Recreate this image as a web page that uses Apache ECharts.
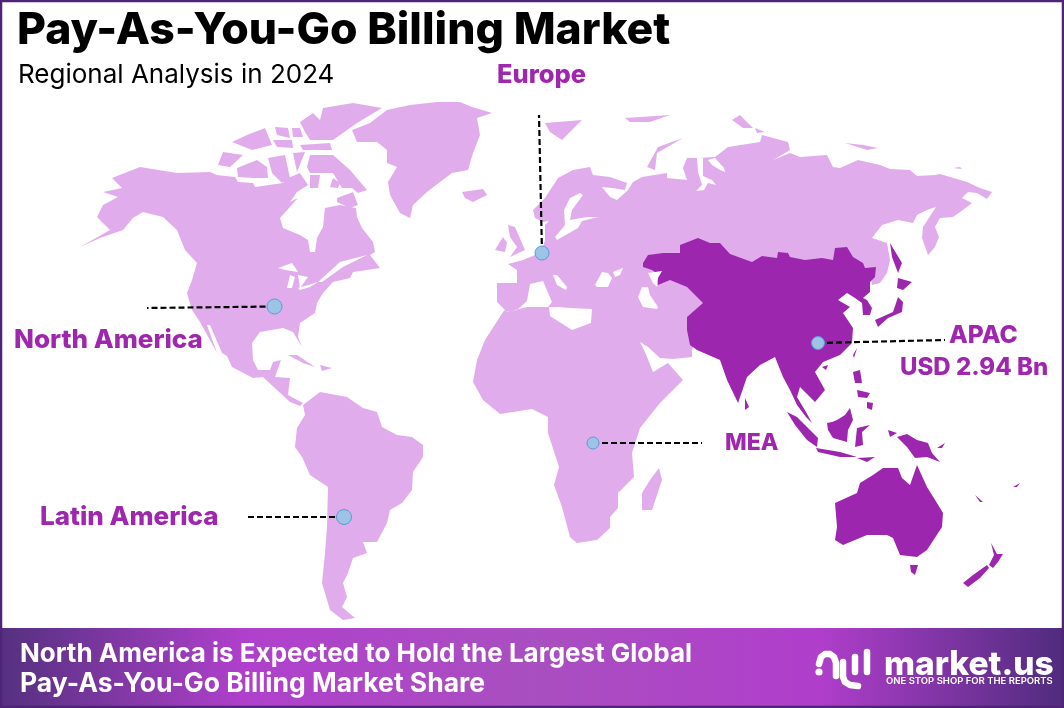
<!DOCTYPE html>
<html>
<head>
<meta charset="utf-8">
<style>html,body{margin:0;padding:0;background:#fff}#c{width:1064px;height:708px}</style>
<script src="https://cdn.jsdelivr.net/npm/echarts@6/dist/echarts.min.js"></script>
</head>
<body>
<div id="c"></div>
<script>
// ---------- chart data ----------
const chartTitle = 'Pay-As-You-Go Billing Market';
const chartSubtitle = 'Regional Analysis in 2024';
const regionNames = ['North America', 'Europe', 'APAC', 'MEA', 'Latin America'];
const apacValue = 2.94;
// dot location of each region and where its leader line ends, in map units
const regionDots = [[274.5, 306.5], [542, 253], [818, 343], [593, 443], [344, 517]];
const leaderEnds = [[147, 308], [539, 115], [945, 340], [702, 443], [245, 517]];
const footerLines = ['North America is Expected to Hold the Largest Global', 'Pay-As-You-Go Billing Market Share'];

// ---------- map outlines, in map units ----------
const northAmerica = [[112,178],[140,167],[177,173],[210,172],[217,175],[235,177],[238,182],[253,183],[255,187],[283,183],[288,178],[300,173],[308,185],[297,192],[290,202],[298,198],[280,218],[283,228],[300,235],[308,240],[310,252],[315,252],[317,238],[323,227],[325,208],[340,205],[350,207],[356,208],[357,217],[362,228],[373,242],[375,252],[370,255],[380,268],[367,270],[353,272],[350,278],[333,282],[323,293],[317,303],[315,313],[300,323],[298,337],[302,347],[293,332],[283,328],[260,332],[252,343],[253,360],[258,370],[270,370],[273,362],[281,360],[275,377],[290,378],[288,395],[303,403],[300,406],[290,402],[277,390],[263,377],[253,378],[232,367],[227,356],[222,353],[210,325],[207,325],[217,353],[200,322],[192,310],[187,293],[192,280],[197,263],[185,250],[177,230],[163,217],[143,212],[133,218],[123,230],[100,238],[80,247],[110,230],[97,217],[103,205],[118,197],[103,192],[122,188]];
const southAmerica = [[303,405],[320,392],[347,397],[363,408],[377,412],[382,427],[397,435],[412,437],[423,445],[423,457],[413,472],[412,490],[402,503],[390,510],[387,523],[377,542],[363,542],[367,553],[353,558],[348,573],[343,583],[347,597],[342,607],[355,618],[343,620],[330,610],[322,583],[325,553],[327,527],[328,487],[310,475],[302,457],[295,447],[297,428],[305,415]];
const greenland = [[352,130],[370,123],[387,110],[410,105],[437,102],[460,102],[472,107],[492,113],[477,118],[480,135],[473,153],[468,170],[452,173],[440,182],[427,192],[413,205],[410,218],[400,213],[390,195],[388,182],[397,167],[387,163],[387,150],[377,142],[357,142]];
const iceland = [[462,192],[483,189],[487,195],[473,202],[465,198]];
const arcticIslands = [
  [[218,165],[223,152],[243,155],[230,167]],
  [[237,168],[257,160],[267,167],[268,178],[253,178],[238,177]],
  [[268,158],[285,155],[290,178],[282,183],[272,173]],
  [[293,153],[305,152],[297,172]],
  [[232,142],[247,135],[265,128],[272,145],[252,150]],
  [[275,127],[288,128],[290,138],[277,135]],
  [[273,140],[292,140],[293,148],[277,147]],
  [[300,145],[330,143],[332,150],[303,150]],
  [[292,128],[300,128],[303,137],[293,137]],
  [[300,122],[313,113],[320,120],[323,108],[353,103],[382,108],[357,123],[333,140],[310,140],[305,132]],
  [[307,167],[310,155],[333,155],[350,170],[367,190],[358,193],[352,188],[342,188],[333,173],[323,173],[310,173]],
  [[310,175],[320,175],[318,188],[310,188]],
  [[333,178],[340,183],[338,188],[330,187]],
  [[337,198],[353,192],[358,205],[350,208],[337,202]]
];
const afroEurasia = [[505,310],[497,302],[497,283],[517,283],[517,270],[508,264],[523,260],[535,255],[543,247],[545,240],[545,225],[549,221],[543,222],[535,218],[533,210],[545,198],[558,178],[573,170],[590,167],[593,175],[610,177],[627,183],[625,190],[612,188],[602,187],[610,197],[617,200],[628,190],[633,182],[642,177],[667,173],[667,178],[687,180],[683,168],[687,158],[698,158],[715,157],[728,147],[760,142],[762,135],[788,142],[790,150],[773,160],[790,153],[800,157],[827,155],[833,167],[840,168],[858,160],[880,165],[890,169],[910,170],[917,176],[935,175],[940,174],[967,182],[980,188],[992,192],[987,199],[977,193],[968,192],[962,198],[972,203],[963,210],[953,217],[940,218],[935,227],[939,237],[935,247],[928,255],[922,238],[923,227],[936,207],[927,210],[917,215],[913,223],[898,220],[882,225],[872,238],[887,243],[890,260],[887,273],[880,283],[872,285],[870,273],[860,275],[780,290],[720,300],[700,330],[692,350],[692,357],[673,359],[660,358],[648,347],[640,342],[645,352],[653,372],[668,363],[683,380],[660,403],[640,428],[632,453],[634,477],[618,493],[618,508],[610,517],[610,528],[597,540],[577,543],[570,537],[562,507],[554,485],[559,467],[548,433],[548,417],[532,409],[513,412],[500,414],[483,400],[473,382],[477,360],[485,340],[503,312]];
const lightIslands = [
  [[508,225],[515,227],[525,250],[510,257],[517,247],[510,237]],
  [[495,250],[503,237],[507,243],[505,252]],
  [[545,123],[582,120],[562,140],[550,132]],
  [[625,118],[670,115],[650,122],[630,122]],
  [[732,120],[740,115],[753,128],[743,128]],
  [[755,128],[765,132],[757,133]],
  [[683,138],[658,147],[647,167],[655,170],[657,153]],
  [[845,143],[863,145],[878,148],[867,150]],
  [[953,168],[960,167],[962,169]],
  [[542,285],[544,295],[540,297]],
  [[659,468],[662,480],[652,510],[642,510],[642,493],[650,480]],
  [[288,355],[297,355],[315,367],[303,363]],
  [[320,365],[332,368],[322,371]]
];
const apacMainland = [[643,263],[648,255],[663,253],[680,253],[680,245],[698,238],[710,243],[720,243],[730,254],[752,262],[762,256],[777,258],[778,252],[788,253],[790,257],[805,260],[822,258],[833,260],[835,248],[847,247],[853,257],[863,263],[865,268],[876,267],[875,277],[870,282],[870,292],[863,298],[867,300],[872,308],[870,315],[863,315],[862,303],[855,298],[847,293],[838,300],[850,307],[843,313],[853,328],[852,343],[840,355],[823,362],[815,372],[825,390],[815,402],[800,387],[797,397],[806,412],[812,423],[806,417],[797,405],[790,390],[783,377],[775,357],[760,365],[747,377],[738,403],[727,380],[720,360],[697,350],[690,345],[687,330],[687,317],[703,303],[687,287],[670,280],[658,285],[655,272],[652,270],[643,267]];
const apacIslands = [
  [[875,320],[893,312],[898,297],[903,302],[902,312],[888,318],[878,327]],
  [[898,278],[912,282],[903,290],[897,288]],
  [[890,243],[902,263],[898,273],[892,257]],
  [[853,355],[857,348],[854,358]],
  [[822,367],[828,365],[826,370]],
  [[745,398],[749,407],[745,410]],
  [[853,372],[860,370],[862,383],[855,383]],
  [[867,402],[873,403],[872,410],[867,408]],
  [[857,390],[870,393],[867,398],[858,397]],
  [[787,412],[797,417],[810,430],[818,438],[817,447],[807,440],[795,425]],
  [[816,448],[840,452],[857,457],[840,457],[818,452]],
  [[857,458],[875,457],[867,462]],
  [[827,423],[832,422],[837,420],[845,415],[850,408],[853,420],[848,430],[847,442],[833,438],[828,430]],
  [[857,428],[870,425],[862,432],[863,445],[855,447]],
  [[897,437],[907,434],[917,440],[928,443],[932,453],[940,462],[927,457],[915,458],[907,447]],
  [[888,430],[897,433],[890,437]],
  [[937,448],[945,443],[942,448]],
  [[975,495],[983,502],[980,502]],
  [[1013,487],[1020,483],[1017,487]],
  [[835,503],[857,493],[860,483],[873,475],[883,468],[898,468],[902,478],[910,485],[917,465],[927,487],[937,503],[943,513],[942,527],[927,550],[917,557],[900,555],[893,538],[887,535],[867,535],[843,545],[835,540],[837,527]],
  [[910,565],[918,565],[915,575],[911,572]],
  [[991,543],[997,554],[1003,554],[998,562],[993,568],[989,565],[994,555]],
  [[987,565],[989,568],[980,578],[968,587],[963,583],[973,575]]
];
const inlandWaters = [
  [[505,312],[517,310],[527,301],[530,284],[543,281],[546,288],[552,302],[548,307],[527,307],[507,312]],
  [[553,275],[557,275],[567,287],[566,290],[557,285]],
  [[549,307],[558,307],[570,308],[592,309],[591,323],[572,330],[550,316]],
  [[595,285],[602,272],[608,273],[612,278],[608,287],[597,287]],
  [[613,272],[623,268],[620,275],[615,277]],
  [[638,297],[642,287],[648,287],[650,295],[658,307],[657,309],[643,307]],
  [[648,273],[662,271],[658,278],[657,287],[653,283]],
  [[580,193],[583,195],[572,210],[570,220],[587,217],[598,217],[582,221],[578,228],[557,240],[555,237],[565,225],[564,210],[570,198]],
  [[697,158],[703,158],[703,176],[712,180],[716,185],[708,183],[704,190],[696,191],[702,185],[698,172]],
  [[708,160],[715,158],[724,168],[725,172],[720,170],[712,165]],
  [[278,268],[292,263],[298,272],[285,270]],
  [[287,288],[290,275],[295,277],[292,288]],
  [[298,275],[308,277],[300,288]],
  [[298,288],[318,282],[310,287],[300,290]],
  [[318,282],[340,262],[367,255],[343,267],[322,282]]
];
// logo strokes
const logoStrokes = [
  [[819,664],[821,657],[825,654],[830,654],[834,657],[836,663],[836,676]],
  [[843,662],[843,677],[845,682],[850,685],[858,686]],
  [[855,657],[855,672]],
  [[867,652],[867,672]]
];

// ---------- build the map ----------
const closeRing = r => [r.concat([r[0]])];
const feature = (name, polys) => ({
  type: 'Feature', properties: { name: name },
  geometry: { type: 'MultiPolygon', coordinates: polys.map(closeRing) }
});
const lightPolys = [northAmerica, southAmerica, greenland, iceland, afroEurasia].concat(arcticIslands, lightIslands);
const darkPolys = [apacMainland].concat(apacIslands);
echarts.registerMap('worldShape', { type: 'FeatureCollection', features: [
  feature('Light', lightPolys), feature('Dark', darkPolys), feature('Water', inlandWaters)
]});
const allPts = lightPolys.concat(darkPolys).flat();
const xs = allPts.map(p => p[0]), ys = allPts.map(p => p[1]);
const minX = Math.min(...xs), maxX = Math.max(...xs), minY = Math.min(...ys), maxY = Math.max(...ys);

const FONT = 'Inter';
const PURPLE = '#9F27AE';
const dotSizes = [15, 14, 13, 12, 15];
const label = (text, x, y, size, color, weight) => ({
  type: 'text', x: x, y: y, z: 20,
  style: { text: text, font: (weight || 800) + ' ' + size + 'px ' + FONT, fill: color || PURPLE, textVerticalAlign: 'middle' }
});

const chart = echarts.init(document.getElementById('c'), null, { renderer: 'canvas' });
chart.setOption({
  animation: false,
  backgroundColor: '#fff',
  geo: {
    map: 'worldShape', silent: true, roam: false,
    projection: { project: p => p, unproject: p => p },
    left: minX, top: minY, width: maxX - minX, height: maxY - minY,
    label: { show: false },
    itemStyle: { areaColor: '#E1ACEC', borderWidth: 0 },
    regions: [
      { name: 'Light', itemStyle: { areaColor: '#E1ACEC', borderWidth: 0 } },
      { name: 'Dark', itemStyle: { areaColor: '#9D26AE', borderWidth: 0 } },
      { name: 'Water', itemStyle: { areaColor: '#FFFFFF', borderWidth: 0 } }
    ]
  },
  series: [
    {
      type: 'lines', coordinateSystem: 'geo', silent: true, z: 3,
      lineStyle: { color: '#000', width: 2.2, type: [6, 3], curveness: 0, opacity: 1 },
      data: regionNames.map((n, i) => ({ name: n, coords: [regionDots[i], leaderEnds[i]] }))
    },
    {
      type: 'scatter', coordinateSystem: 'geo', silent: true, z: 4,
      symbol: 'circle', symbolSize: (v, p) => dotSizes[p.dataIndex],
      itemStyle: { color: '#9DC3E6', borderColor: '#5B9BD5', borderWidth: 1, opacity: 1 },
      data: regionNames.map((n, i) => ({ name: n, value: regionDots[i] }))
    }
  ],
  graphic: { elements: [
    { type: 'rect', z: 10, shape: { x: 0, y: 628, width: 1064, height: 80 }, style: {
      fill: new echarts.graphic.LinearGradient(0, 0, 1, 0, [
        { offset: 0, color: '#54307F' }, { offset: 0.23, color: '#B040CC' },
        { offset: 0.5, color: '#A94FC0' }, { offset: 0.77, color: '#B03ECB' }, { offset: 1, color: '#4F2C7E' }
      ]) } },
    { type: 'rect', z: 30, shape: { x: 1, y: 1, width: 1062, height: 706 }, style: { fill: 'none', stroke: '#4E2378', lineWidth: 2.5 } },
    label(chartTitle, 17, 31, 44.5, '#000'),
    label(chartSubtitle, 18, 75, 26, '#000', 400),
    label(regionNames[1], 497, 75, 25.5),
    label(regionNames[0], 14, 340, 26),
    label(regionNames[2], 949, 336, 24.5),
    label('USD ' + apacValue + ' Bn', 900, 368, 24),
    label(regionNames[3], 725, 443, 23),
    label(regionNames[4], 40, 517, 26),
    label(footerLines[0], 20, 654, 26, '#fff', 700),
    label(footerLines[1], 20, 684, 26.5, '#fff', 700),
    { type: 'circle', z: 20, shape: { cx: 819, cy: 672, r: 3.6 }, style: { fill: '#fff' } }
  ].concat(logoStrokes.map(s => ({
      type: 'polyline', z: 20, shape: { points: s },
      style: { fill: 'none', stroke: '#fff', lineWidth: 6.5, lineCap: 'round', lineJoin: 'round' } }))).concat([
    label('market.us', 884, 665, 33.5, '#fff', 800),
    label('ONE STOP SHOP FOR THE REPORTS', 886, 681, 9.5, '#fff', 600)
  ]) }
});
</script>
</body>
</html>
